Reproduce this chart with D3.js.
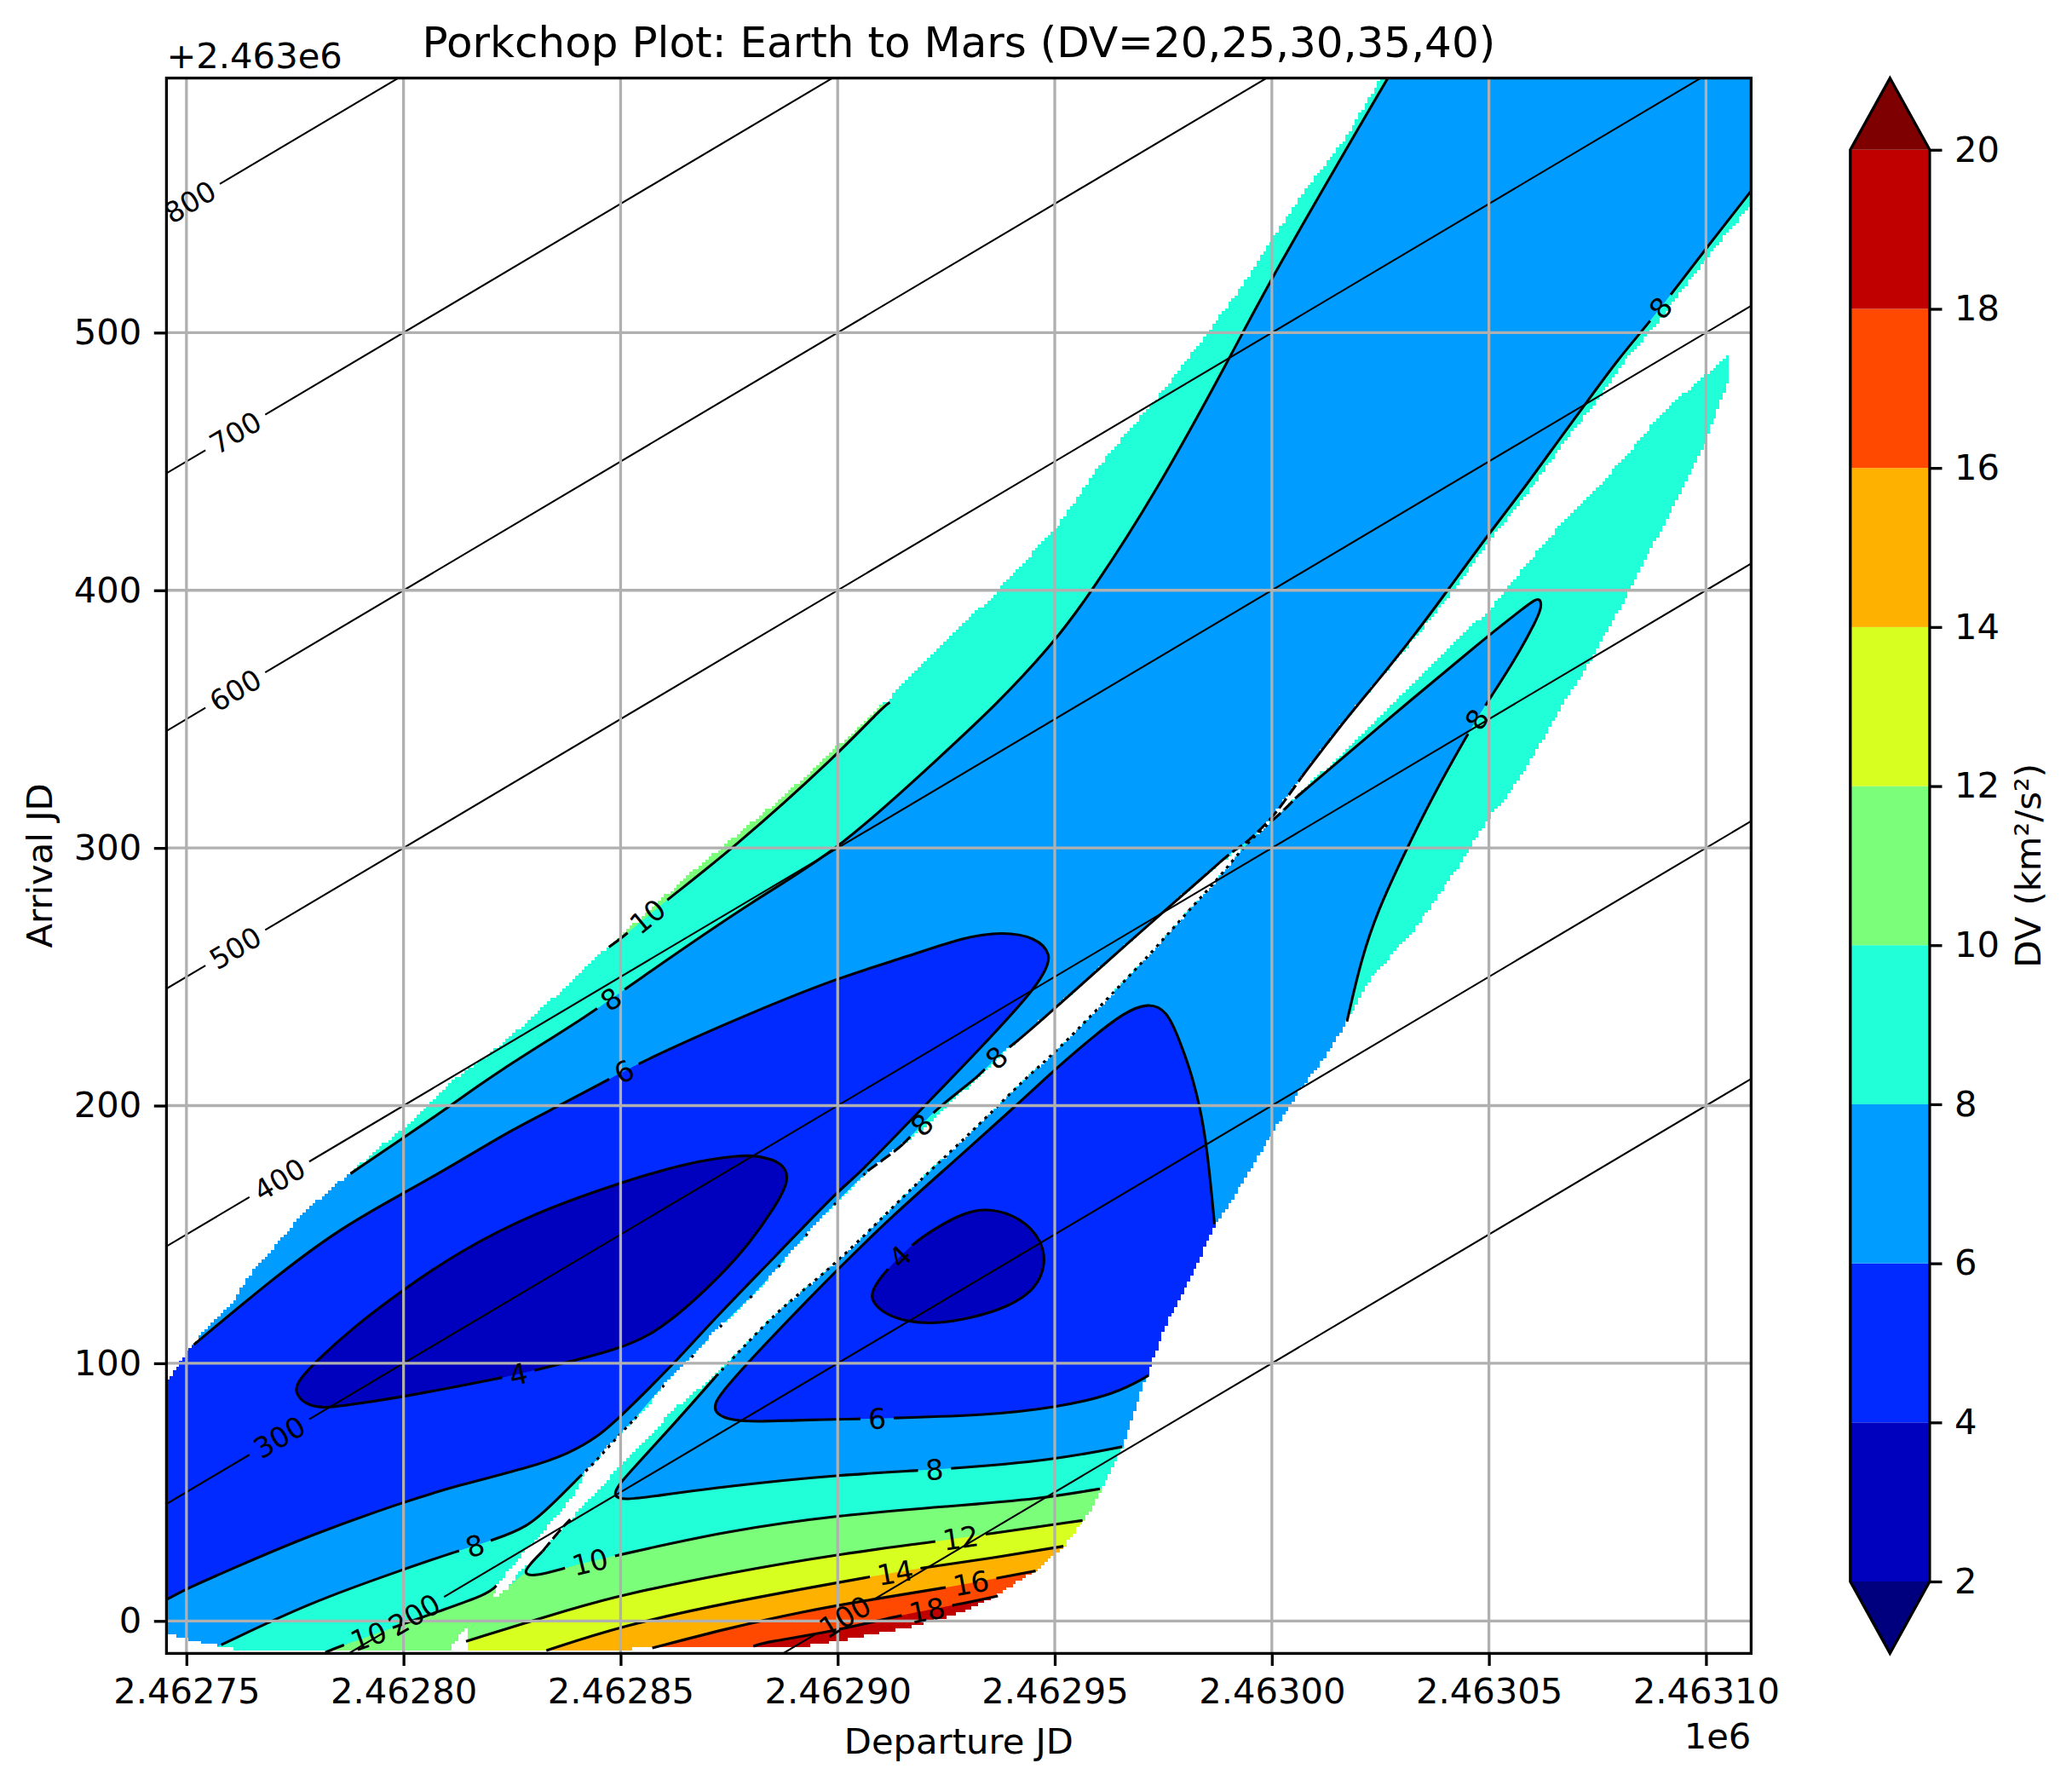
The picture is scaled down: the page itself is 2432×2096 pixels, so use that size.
<!DOCTYPE html>
<html>
<head>
<meta charset="utf-8">
<script src="https://cdn.jsdelivr.net/npm/d3@7"></script>
<style>
body { margin: 0; background: #fff; }
text { font-family: "DejaVu Sans"; fill: #000; }
</style>
</head>
<body>
<svg id="chart" width="2432" height="2096"></svg>
<script>
// departure = days past JD 2462000, arrival = days past JD 2463000
var depBase = 2462000;
var depTicks = [750, 800, 850, 900, 950, 1000, 1050, 1100];
var arrTicks = [0, 100, 200, 300, 400, 500];
var dvLevels = [2, 4, 6, 8, 10, 12, 14, 16, 18, 20];
var dvColors = ["#0000bf", "#002aff", "#009cff", "#20ffd7", "#7bff7b", "#d7ff20", "#ffb100", "#ff4900", "#c00000"];
var underColor = "#00007f", overColor = "#7f0000";
var tofLevels = [100, 200, 300, 400, 500, 600, 700, 800];
var tofLabelDep = [901.8, 802.5, 771.4, 771.4, 761.4, 761.4, 761.4, 750.8];

// where the solver gave a value at all (outline of the two lobes)
var maskA = [[744,-5],[745.4,-5],[750,-7],[756,-9.3],[763,-11.5],[810.8,-11.5],[811.6,-8.6],[814,-2.9],[817.5,-1],[820,5.8],[821.4,13.7],[826.1,23.3],[830.4,31.3],[834.6,39.5],[839,48],[842.3,59],[850,72.5],[855,80.6],[859.3,90.3],[866,101.4],[871.2,111.5],[877.1,120.9],[883.1,130.9],[890.7,146],[900,163.2],[906.9,174.6],[913.7,183.5],[917.2,187.4],[933.4,212.5],[940.2,223.3],[950,237.7],[959,251.3],[967.6,264.2],[974.4,274.3],[984.7,289.4],[993.2,300.9],[1000,312],[1006.8,327.4],[1015.8,347.5],[1024.3,364.6],[1034,383.5],[1041.8,400],[1051.5,422],[1060,440],[1068.5,460],[1075,473.6],[1081.5,489.4],[1088.8,503.7],[1095,517.6],[1102,532.6],[1112,553],[1112,606],[1024.5,606],[1024.8,598],[1017.2,576],[1008,556],[999.7,535],[991.4,514],[985.3,500],[974.6,476.6],[961,450],[951,425.7],[945.7,416],[935.3,397],[923,377.5],[911.7,357.6],[898.8,337.5],[886.6,318.6],[876,304],[863.8,287],[860.7,282],[847,261.4],[835,242.6],[822.7,223.8],[812,210.6],[800,191],[795.5,185.3],[788.7,175.3],[783.6,168],[777.2,158.8],[771.7,148],[765.7,136.6],[760.6,123.7],[754.7,113.6],[750.4,105],[747,96.4],[745.4,93.5],[744,93.5]];
var maskB = [[814.4,-11.5],[814.6,-5],[815,-1.4],[815.5,1],[818.5,6.5],[823.6,11.8],[826.1,17.6],[832,27],[835.9,35],[842.7,46.5],[850,60.5],[855.9,70.5],[862.7,82.7],[872,95.7],[878,105.8],[885.7,119.4],[893.4,130.2],[900,139.6],[908.8,154],[915.6,165.5],[926.5,183],[934.4,195.6],[943.7,211.4],[950,220.4],[960.7,239],[971.8,258.4],[981.2,276.4],[988,288.7],[994,301.6],[1000,310.5],[1005.6,320],[1015.8,336],[1026,353],[1032.8,364.7],[1041.3,379],[1050,392],[1058.3,409.4],[1069.4,431],[1076.2,442],[1083,455],[1089,467],[1095,476.5],[1100,483.6],[1104.7,490.8],[1105.3,490.8],[1105.3,481.5],[1103,472],[1099.6,456],[1096.6,446],[1092.3,432],[1088,418],[1082.6,400],[1077,383.5],[1073.2,372],[1066.8,355],[1060.9,337.6],[1055,321.8],[1050,311.5],[1045.6,300],[1042.6,291.7],[1033,268.5],[1023,249.9],[1017,232],[1012.7,219.7],[1006.8,206.8],[1000,189],[991.5,165],[987,154],[981.6,134],[976.2,117],[972.4,100],[968.7,83.6],[965.4,66],[961.5,53],[958,42],[952,28.7],[946,20],[936.7,10],[928,3],[919,-1.4],[911,-4.3],[902.6,-7],[891.6,-10],[881.4,-10.5],[867,-10.5]];

// DV contours
var dv4Left = [[775.3,87.8],[777.5,84],[781.5,82.3],[790,84.5],[800,87],[822.3,94.2],[830.4,97.3],[850,105.5],[857.6,111.6],[865.2,121.6],[872.9,133.8],[879.7,146.5],[885.6,160.8],[889,171],[887.5,178],[881.4,180.6],[878,180.8],[866,178.2],[850,170.2],[829.5,158],[812.5,143],[800,128.7],[788.7,114.3],[780.2,101.4],[775,92]];
var dv4Right = [[907.6,124.4],[910.8,119],[916.3,116],[922.3,115.3],[930.8,117.5],[939.3,121.8],[945.8,129],[948,138.7],[947,147.8],[942.3,156.4],[935,160.4],[929,158.5],[922.3,152.2],[917.2,146.4],[910.8,135.5],[908,128.7]];
var dv6Left = [[751.7,107.2],[770,133],[785.3,152.3],[800,166],[812.5,178],[825.3,191],[836.3,200.3],[847.4,210.4],[859.2,220.6],[880,236],[900,249.6],[916.4,258],[929.2,265.5],[938,267.5],[945.5,265.5],[949.5,258.5],[947.5,251.3],[944.7,244],[933.5,223.3],[918.8,197.8],[904.4,172.6],[900,166.9],[886.5,143],[870.3,115],[863.5,102],[850,79.2],[844.8,71.5],[838,64.9],[829.5,59.8],[812.5,52.6],[800,46.2],[778.5,33.3],[761.5,21],[750,12.5],[745.8,8.6],[745,8]];
var dv6Right = [[971.6,95.3],[964,88],[950,82.7],[934.2,79.8],[913.4,78.8],[905.2,78.4],[891.6,78],[881.4,77.3],[875.6,77.8],[871.9,80.2],[871.4,84.4],[874.6,91.4],[883.1,107.2],[900,136.6],[912.8,157.5],[925.6,176.6],[941.1,200],[950,214],[959,227],[965.9,236],[971.4,240],[975.9,237],[978.7,225.4],[981.2,214],[983.4,200],[985.1,183.8],[986.8,154]];
var dv8Upper = [[787.8,173.6],[800,187.6],[810.6,199.6],[821,212.5],[842.5,234.9],[851.6,246],[882,281.4],[900,298.7],[925,337.6],[936,354.7],[950,379.9],[958.7,400],[973,437],[990.6,491],[999.7,520.8],[1026.4,598],[1027.5,601]];
// lower edge of the left lobe, it runs along the gap so parts of it break up
var dv8LowA = [[758,-9.3],[778.5,7.2],[800,20],[812.5,27.2],[820.6,31.3],[828.7,36.6],[833.8,44.5],[840.6,56]];
var dv8LowB = [[840.6,56],[843.5,60.5],[850,72.8],[853.3,78.5]];
var dv8LowC = [[853.3,78.5],[859.3,90.6],[866,101.4],[871.2,111.5],[877.1,120.9],[883.1,130.9],[890.7,146],[900,163.2],[906.9,174.6]];
var dv8LowD = [[906.9,174.6],[913.7,183],[915,185]];
var dv8LowE = [[915,185],[919.5,192.7],[922.8,198.9],[933.4,212.5],[936.4,219],[940.3,223.3],[950,237.7],[959,251.3],[967.6,264.2],[974.4,274.3],[984.7,289.4],[988,294.4]];
var dv8LowF = [[988,294.4],[991.5,299.4],[993.2,300.9],[995.7,304.5],[1000,311.6],[1002.6,317.4],[1006.8,327.4]];
var dv8LowG = [[1006.8,327.4],[1015.8,347.5],[1024.3,364.6],[1032.8,382.5],[1040.5,400],[1050,422],[1058.3,440],[1066.8,460],[1073.2,474.5],[1079.6,489.4],[1086.8,503.7],[1093.2,517.6],[1100,532.6],[1110.4,555]];
// the 8 contour right of the gap
var dv8RightA = [[965.5,67.6],[950,62.5],[926.5,59],[900,56.8],[874.6,52.3],[855.9,48],[851,47],[848.2,48.2],[849.4,52.5],[851.6,56.8],[861.8,75.5],[872,95]];
var dv8RightB = [[872,95],[878,105.8],[885.7,119.4],[893.4,130.2],[900,139.6],[908.8,154],[915.6,165.5],[926.5,183],[934.4,195.6],[943.7,211.4],[950,220.4],[960.7,239],[971.8,258.4],[981.2,276.4],[988,288.7],[994,301.6],[1000,310.5]];
var dv8RightC = [[1000,310.5],[1003,315],[1005.6,319.6]];
var dv8RightD = [[1005.6,319.6],[1024.3,346.5],[1050,382.7],[1058.3,393.5],[1060.6,396.4],[1061.9,396.8],[1062.1,393],[1060.8,388],[1056.6,374.7],[1050.2,358],[1047.2,350],[1045.2,344.4],[1037,320],[1030,296],[1024.5,276],[1020.6,257],[1017.3,232.6]];
var dv10Upper = [[847.3,261.5],[851,266],[859.2,278],[876,299.8],[900,336.2],[910.4,354.7],[912,356.5]];
var dv10Left = [[782,-12.2],[786.2,-9.3],[797,-3],[807.8,3.6],[819.3,10.3],[821.4,13.7]];
var dv10Right = [[832,27],[828.8,21.5],[827.6,18.2],[830.4,17.3],[838,21],[849,25.4],[874.6,35],[900,41],[925.6,44.5],[946.9,47.4],[960.4,51.3]];
var dv10Hook = [[832,27],[835.9,35],[838.4,39.4]];
var dv12 = [[814.4,-7.9],[840.6,5.7],[850,10],[874.6,18.6],[900,25.9],[922.6,30.8],[934.2,33.7],[956.4,39]];
var dv14 = [[832.9,-11.5],[850,-2],[874.6,7.2],[907.7,17.2],[919.2,20.6],[934,24],[952,29]];
var dv16 = [[857.3,-10.5],[874.6,-2.9],[891.6,3.6],[908.7,8.6],[924.9,12.9],[936.4,16.5],[945.6,19.4]];
var dv18 = [[880.6,-9.8],[883.1,-8.3],[898.4,-4.3],[915.4,2.6],[927.3,6.2],[936.9,9.7]];

// points that close the filled bands outside the visible lobes
var closeLowerLeft = [[1115,562],[1115,606],[1028,606]];
var closeUpperLeft = [[775,195],[740,195],[740,-14],[752,-14]];
var close6Left = [[744,8],[744,100]];
var close6Right = [[1000,154],[1000,90]];
var close8Right = [[1030,232],[1012,190],[995,140],[985,100],[975,66]];
var close10Upper = [[880,340],[850,290]];
var close10Left = [[826,13.7],[826,-14],[782,-14]];
var close10Right = [[985,55],[985,-14],[816,-14],[822,10]];
var close12 = [[975,42],[975,-14],[812,-14]];
var close14 = [[970,32],[970,-14],[830,-14]];
var close16 = [[965,22],[965,-14],[855,-14]];
var close18 = [[955,12],[955,-14],[878,-14]];

var labelText = ["10","8","6","4","8","10","10","6","8","12","14","16","18","4","8","8","8","8"];
var labelDep = [857.5,848,850.8,826.5,816.2,791.5,842.9,909,922.2,928.2,913.3,930.7,920.4,914.5,919.5,936.4,1089.1,1047.2];
var labelArr = [271,240.4,213.9,96.9,29.4,-4.9,23.4,78.7,59,32,19.4,15,5,141,192.7,219,510,350];

var svg = d3.select("#chart");
var left = 195.4, right = 2055.4, top_ = 91.6, bottom = 1940.4;
var tickFont = 41.7, labelFont = 33.3;

var x = d3.scaleLinear().domain([745.4, 1110.4]).range([left, right]);
var y = d3.scaleLinear().domain([-12.6, 598.8]).range([bottom, top_]);
var smooth = d3.line().x(function(d) {return x(d[0]);}).y(function(d) {return y(d[1]);}).curve(d3.curveBasis);
var straight = d3.line().x(function(d) {return x(d[0]);}).y(function(d) {return y(d[1]);});
var loop = d3.line().x(function(d) {return x(d[0]);}).y(function(d) {return y(d[1]);}).curve(d3.curveBasisClosed);

// even arguments are contours, odd ones the plain closing points
function band() {
    var out = "";
    for (var i = 0; i < arguments.length; i++) {
        var s = (i % 2 ? straight : smooth)(arguments[i]);
        out += i ? s.replace(/^M/, "L") : s;
    }
    return out + "Z";
}
function joinParts() {
    var all = [];
    for (var i = 0; i < arguments.length; i++) {
        arguments[i].forEach(function(p) {
            var last = all[all.length - 1];
            if (!last || last[0] != p[0] || last[1] != p[1]) all.push(p);
        });
    }
    return all;
}
function rev(a) { return a.slice().reverse(); }

var defs = svg.append("defs");
defs.append("clipPath").attr("id", "axesClip").append("rect")
    .attr("x", left).attr("y", top_).attr("width", right - left).attr("height", bottom - top_);

// solver grid cells: this gives the stepped outline of the filled area
var cellW = 0.73, cellH = 1.2228, maskPath = "";
for (var a = -12.6; a < 598.8; a += cellH) {
    var start = null;
    for (var d = 745.4; d <= 1110.4 + cellW; d += cellW) {
        var p = [d + cellW / 2, a + cellH / 2];
        var inside = d < 1110.4 && (d3.polygonContains(maskA, p) || d3.polygonContains(maskB, p));
        if (inside && start === null) start = d;
        if (!inside && start !== null) {
            var x0 = Math.round(x(start)), x1 = Math.round(x(d));
            var y0 = Math.round(y(a + cellH)), y1 = Math.round(y(a));
            maskPath += "M" + x0 + " " + y0 + "H" + x1 + "V" + y1 + "H" + x0 + "Z";
            start = null;
        }
    }
}
defs.append("clipPath").attr("id", "maskClip").append("path").attr("d", maskPath);

var dv8LowAll = joinParts(dv8LowA, dv8LowB, dv8LowC, dv8LowD, dv8LowE, dv8LowF, dv8LowG);
var dv8RightAll = joinParts(dv8RightA, dv8RightB, dv8RightC, dv8RightD);

var fills = [
    {c: 3, d: "M" + left + " " + top_ + "H" + right + "V" + bottom + "H" + left + "Z"},
    {c: 4, d: band(dv10Upper, close10Upper)},
    {c: 4, d: band(dv10Left, close10Left)},
    {c: 4, d: band(dv10Right.slice(2), close10Right)},
    {c: 5, d: band(dv12, close12)},
    {c: 6, d: band(dv14, close14)},
    {c: 7, d: band(dv16, close16)},
    {c: 8, d: band(dv18, close18)},
    {c: 2, d: band(dv8LowAll, closeLowerLeft, rev(dv8Upper), closeUpperLeft)},
    {c: 2, d: band(dv8RightAll, close8Right)},
    {c: 1, d: band(dv6Left, close6Left)},
    {c: 1, d: band(dv6Right, close6Right)},
    {c: 0, d: loop(dv4Left)},
    {c: 0, d: loop(dv4Right)}
];
svg.append("g").attr("clip-path", "url(#axesClip)")
  .append("g").attr("clip-path", "url(#maskClip)")
    .selectAll("path").data(fills).enter().append("path")
    .attr("d", function(f) {return f.d;})
    .attr("fill", function(f) {return dvColors[f.c];});

var plot = svg.append("g").attr("clip-path", "url(#axesClip)");

// contour lines, every one may carry label gaps
var solid = null, dots = "3.5 6", sparse = "3 46", dash = "14 5";
var contourDefs = [
    [dv4Left, solid, true], [dv4Right, solid, true], [dv6Left, solid], [dv6Right, solid],
    [dv8Upper, solid], [dv8LowA, solid], [dv8LowB, dots], [dv8LowC, sparse], [dv8LowD, dash],
    [dv8LowE, solid], [dv8LowF, dash], [dv8LowG, solid],
    [dv8RightA, solid], [dv8RightB, dots], [dv8RightC, dash], [dv8RightD, solid],
    [dv10Upper, solid], [dv10Left, solid], [dv10Right, solid], [dv10Hook, dash],
    [dv12, solid], [dv14, solid], [dv16, solid], [dv18, solid]
];
var contourNodes = contourDefs.map(function(c) {
    return plot.append("path")
        .attr("d", c[2] ? loop(c[0]) : smooth(c[0]))
        .attr("fill", "none").attr("stroke", "#000").attr("stroke-width", 3.1)
        .attr("stroke-dasharray", c[1]).node();
});
var tofNodes = tofLevels.map(function(t) {
    var ends = x.domain().map(function(d) {return [d, d + t - 1000];});
    return plot.append("path").attr("d", straight(ends))
        .attr("fill", "none").attr("stroke", "#000").attr("stroke-width", 2.08).node();
});

var grid = svg.append("g").attr("clip-path", "url(#axesClip)");
depTicks.forEach(function(t) {
    grid.append("line").attr("x1", x(t)).attr("x2", x(t)).attr("y1", top_).attr("y2", bottom)
        .attr("stroke", "#b0b0b0").attr("stroke-width", 3.3);
});
arrTicks.forEach(function(t) {
    grid.append("line").attr("x1", left).attr("x2", right).attr("y1", y(t)).attr("y2", y(t))
        .attr("stroke", "#b0b0b0").attr("stroke-width", 3.3);
});

// finds the spot on a path closest to the anchor, returns length and slope there
function locate(node, px, py) {
    var total = node.getTotalLength(), best = 0, bestD = Infinity;
    for (var l = 0; l <= total; l += 2) {
        var q = node.getPointAtLength(l);
        var dd = (q.x - px) * (q.x - px) + (q.y - py) * (q.y - py);
        if (dd < bestD) { bestD = dd; best = l; }
    }
    var p0 = node.getPointAtLength(Math.max(0, best - 6));
    var p1 = node.getPointAtLength(Math.min(total, best + 6));
    var ang = Math.atan2(p1.y - p0.y, p1.x - p0.x) * 180 / Math.PI;
    if (ang > 90) ang -= 180;
    if (ang < -90) ang += 180;
    return {len: best, dist: bestD, angle: ang, pt: node.getPointAtLength(best), total: total};
}

var gaps = new Map();
var labels = svg.append("g").attr("clip-path", "url(#axesClip)");
function placeLabel(node, text, loc) {
    var half = text.length * 0.636 * labelFont / 2 + 9;
    if (!gaps.has(node)) gaps.set(node, []);
    gaps.get(node).push([loc.len - half, loc.len + half, loc.total]);
    labels.append("text").text(text)
        .attr("text-anchor", "middle").attr("dy", "0.365em")
        .attr("font-size", labelFont)
        .attr("transform", "translate(" + loc.pt.x + "," + loc.pt.y + ") rotate(" + loc.angle + ")");
}
labelText.forEach(function(txt, i) {
    var px = x(labelDep[i]), py = y(labelArr[i]), hit = null, node = null;
    contourNodes.forEach(function(n, k) {
        if (contourDefs[k][1]) return;
        var loc = locate(n, px, py);
        if (!hit || loc.dist < hit.dist) { hit = loc; node = n; }
    });
    placeLabel(node, txt, hit);
});
tofLevels.forEach(function(t, i) {
    var d = tofLabelDep[i];
    placeLabel(tofNodes[i], String(t), locate(tofNodes[i], x(d), y(d + t - 1000)));
});
gaps.forEach(function(list, node) {
    list.sort(function(a, b) {return a[0] - b[0];});
    var dashes = [], pos = 0;
    list.forEach(function(g) {
        var s = Math.max(g[0], 0);
        dashes.push(Math.max(s - pos, 0), g[1] - s);
        pos = g[1];
    });
    dashes.push(list[0][2] + 10, 0);
    d3.select(node).attr("stroke-dasharray", dashes.join(" "));
});

// axes
function styleAxis(g) {
    g.selectAll("path.domain").remove();
    g.selectAll("line").attr("stroke", "#000").attr("stroke-width", 3.3);
    g.selectAll("text").attr("font-size", tickFont).attr("font-family", "DejaVu Sans").attr("fill", "#000");
}
svg.append("g").attr("transform", "translate(0," + bottom + ")")
    .call(d3.axisBottom(x).tickValues(depTicks).tickSize(14.6).tickPadding(14.5)
        .tickFormat(function(d) {return ((depBase + d) / 1e6).toFixed(5);}))
    .call(styleAxis);
svg.append("g").attr("transform", "translate(" + left + ",0)")
    .call(d3.axisLeft(y).tickValues(arrTicks).tickSize(14.6).tickPadding(14.5))
    .call(styleAxis);
svg.append("rect").attr("x", left).attr("y", top_).attr("width", right - left).attr("height", bottom - top_)
    .attr("fill", "none").attr("stroke", "#000").attr("stroke-width", 3.3);

svg.append("text").text("Porkchop Plot: Earth to Mars (DV=20,25,30,35,40)")
    .attr("x", (left + right) / 2).attr("y", 67).attr("text-anchor", "middle").attr("font-size", 50);
svg.append("text").text("+2.463e6").attr("x", left).attr("y", 80).attr("font-size", tickFont);
svg.append("text").text("1e6").attr("x", right).attr("y", 2052).attr("text-anchor", "end").attr("font-size", tickFont);
svg.append("text").text("Departure JD").attr("x", (left + right) / 2).attr("y", 2058)
    .attr("text-anchor", "middle").attr("font-size", tickFont);
svg.append("text").text("Arrival JD").attr("text-anchor", "middle").attr("font-size", tickFont)
    .attr("transform", "translate(60.5," + (top_ + bottom) / 2 + ") rotate(-90)");

// colorbar
var cbLeft = 2171.8, cbRight = 2264.9, cbTop = 175.8, cbBottom = 1856;
var cb = d3.scaleLinear().domain([2, 20]).range([cbBottom, cbTop]);
var cbMid = (cbLeft + cbRight) / 2;
svg.append("g").selectAll("rect").data(dvColors).enter().append("rect")
    .attr("x", cbLeft).attr("width", cbRight - cbLeft)
    .attr("y", function(c, i) {return cb(dvLevels[i + 1]);})
    .attr("height", function(c, i) {return cb(dvLevels[i]) - cb(dvLevels[i + 1]);})
    .attr("fill", function(c) {return c;});
svg.append("path").attr("d", "M" + cbLeft + " " + cbTop + "L" + cbMid + " " + top_ + "L" + cbRight + " " + cbTop + "Z").attr("fill", overColor);
svg.append("path").attr("d", "M" + cbLeft + " " + cbBottom + "L" + cbMid + " " + bottom + "L" + cbRight + " " + cbBottom + "Z").attr("fill", underColor);
svg.append("path")
    .attr("d", "M" + cbLeft + " " + cbTop + "L" + cbMid + " " + top_ + "L" + cbRight + " " + cbTop + "V" + cbBottom + "L" + cbMid + " " + bottom + "L" + cbLeft + " " + cbBottom + "Z")
    .attr("fill", "none").attr("stroke", "#000").attr("stroke-width", 3.3);
svg.append("g").attr("transform", "translate(" + cbRight + ",0)")
    .call(d3.axisRight(cb).tickValues(dvLevels).tickSize(14.6).tickPadding(14.5))
    .call(styleAxis);
svg.append("text").text("DV (km²/s²)").attr("text-anchor", "middle").attr("font-size", tickFont)
    .attr("transform", "translate(2395," + (cbTop + cbBottom) / 2 + ") rotate(-90)");
</script>
</body>
</html>
